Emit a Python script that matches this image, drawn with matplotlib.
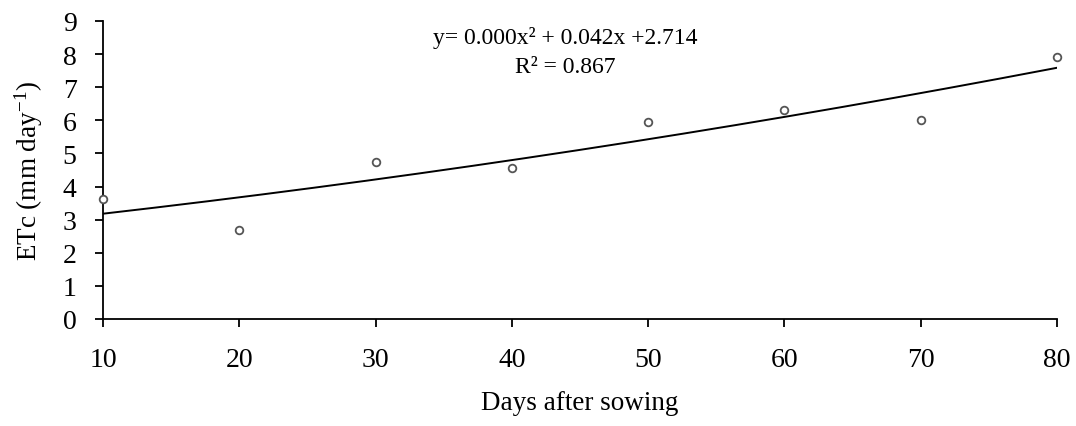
import numpy as np
import matplotlib
matplotlib.use("Agg")
import matplotlib.pyplot as plt

# data
days = [10, 20, 30, 40, 50, 60, 70, 80]
etc = [3.61, 2.70, 4.74, 4.55, 5.95, 6.31, 6.02, 7.92]
x_ticks = [10, 20, 30, 40, 50, 60, 70, 80]
y_ticks = [0, 1, 2, 3, 4, 5, 6, 7, 8, 9]

plt.rcParams['font.family'] = ['Liberation Serif', 'DejaVu Serif']
plt.rcParams['mathtext.fontset'] = 'custom'
plt.rcParams['mathtext.rm'] = 'Liberation Serif'
plt.rcParams['mathtext.it'] = 'Liberation Serif'

fig = plt.figure(figsize=(10.76, 4.27), dpi=100)
ax = fig.add_axes([0.0957, 0.2506, 0.8866, 0.698])

# polynomial trend line (order 2)
coef = np.polyfit(days, etc, 2)
xs = np.linspace(min(days), max(days), 200)
ax.plot(xs, np.polyval(coef, xs), color='black', lw=1.4, zorder=2)

ax.plot(days, etc, linestyle='none', marker='o', markersize=5.5,
        markerfacecolor='white', markeredgecolor='#555555', markeredgewidth=1.3,
        zorder=3, clip_on=False)

ax.set_xlim(10, 80)
ax.set_ylim(0, 9)
ax.set_xticks(x_ticks)
ax.set_yticks(y_ticks)
ax.spines['top'].set_visible(False)
ax.spines['right'].set_visible(False)
for s in ['left', 'bottom']:
    ax.spines[s].set_linewidth(1.3)
ax.tick_params(direction='out', length=6, width=1.3, labelsize=20)
ax.tick_params(axis='x', pad=14)
ax.tick_params(axis='y', pad=13)

ax.set_xlabel('Days after sowing', fontsize=19.5, labelpad=13)
ax.set_ylabel('ETc (mm day$^{\\mathrm{-1}}$)', fontsize=19.5, labelpad=13)

ax.text(0.485, 0.946, 'y= 0.000x² + 0.042x +2.714', transform=ax.transAxes,
        ha='center', va='center', fontsize=17)
ax.text(0.485, 0.846, 'R² = 0.867', transform=ax.transAxes,
        ha='center', va='center', fontsize=17)

fig.savefig('out.png', dpi=100)
